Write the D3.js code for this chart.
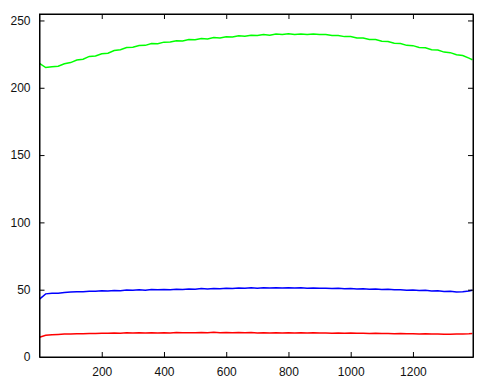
<!DOCTYPE html>
<html>
<head>
<meta charset="utf-8">
<script src="https://cdn.jsdelivr.net/npm/d3@7"></script>
<style>
  body { margin: 0; background: #fff; }
  .axis text { font-family: "Liberation Sans", Arial, sans-serif; font-size: 12px; fill: #111; }
  .axis path, .axis line { stroke: #000; }
</style>
</head>
<body>
<div id="chart-area"></div>
<script>
// sample positions (pixel index along the profile)
var xs = [0, 20, 40, 60, 80, 100, 120, 140, 160, 180, 200, 220, 240, 260, 280, 300, 320, 340, 360, 380,
          400, 420, 440, 460, 480, 500, 520, 540, 560, 580, 600, 620, 640, 660, 680, 700, 720, 740, 760, 780,
          800, 820, 840, 860, 880, 900, 920, 940, 960, 980, 1000, 1020, 1040, 1060, 1080, 1100, 1120, 1140, 1160, 1180,
          1200, 1220, 1240, 1260, 1280, 1300, 1320, 1340, 1360, 1380, 1391];

var green = [218.2, 215.0, 215.6, 216.0, 217.8, 218.7, 220.6, 221.2, 223.3, 223.6, 225.3, 225.7, 227.7, 228.3, 229.9, 230.1, 231.4, 231.5, 232.8, 232.7,
             233.9, 234.0, 234.9, 234.8, 235.8, 235.6, 236.6, 236.3, 237.4, 237.0, 237.9, 237.8, 238.6, 238.2, 239.0, 238.8, 239.5, 239.1, 239.9, 239.5,
             240.1, 239.6, 240.0, 239.6, 240.0, 239.5, 239.6, 238.9, 238.9, 238.0, 238.1, 237.0, 237.0, 235.9, 235.8, 234.6, 234.4, 233.1, 232.9, 231.5,
             231.3, 229.9, 229.7, 228.3, 228.0, 226.5, 226.1, 224.5, 224.0, 222.0, 220.8];

var blue = [43.0, 46.9, 47.3, 47.4, 48.0, 48.2, 48.5, 48.5, 48.9, 48.8, 49.2, 49.0, 49.4, 49.3, 49.7, 49.5, 49.9, 49.6, 50.1, 49.9,
            50.2, 50.0, 50.4, 50.2, 50.6, 50.4, 50.8, 50.6, 50.9, 50.7, 51.1, 50.8, 51.2, 51.0, 51.4, 51.1, 51.4, 51.2, 51.5, 51.2,
            51.4, 51.2, 51.4, 51.1, 51.3, 51.0, 51.1, 50.8, 51.0, 50.7, 50.9, 50.6, 50.7, 50.4, 50.5, 50.2, 50.3, 50.0, 50.0, 49.6,
            49.7, 49.4, 49.5, 49.1, 49.2, 48.7, 48.8, 48.2, 48.4, 49.1, 49.6];

var red = [14.7, 16.2, 16.6, 16.8, 17.1, 17.0, 17.3, 17.2, 17.5, 17.4, 17.7, 17.6, 17.8, 17.7, 18.0, 17.8, 18.0, 17.9, 18.1, 17.9,
           18.1, 17.9, 18.2, 18.0, 18.1, 18.0, 18.2, 18.0, 18.3, 18.0, 18.2, 18.0, 18.2, 18.0, 18.2, 17.9, 18.1, 17.9, 18.1, 17.9,
           18.1, 17.8, 18.0, 17.8, 18.0, 17.8, 17.9, 17.7, 17.9, 17.7, 17.8, 17.6, 17.7, 17.5, 17.6, 17.4, 17.5, 17.3, 17.4, 17.2,
           17.3, 17.1, 17.2, 17.0, 17.1, 16.9, 16.9, 17.0, 17.1, 17.3, 17.5];

var xTicks = [200, 400, 600, 800, 1000, 1200];
var yTicks = [0, 50, 100, 150, 200, 250];

var series = [
    {name: "red", values: red, color: "#ff0000"},
    {name: "blue", values: blue, color: "#0000ff"},
    {name: "green", values: green, color: "#00ff00"}
];

// SVG drawing area
var margin = {top: 14, right: 16, bottom: 34, left: 39.5};
var width = 489 - margin.left - margin.right,
    height = 391 - margin.top - margin.bottom;

var svg = d3.select("#chart-area").append("svg")
    .attr("width", 489)
    .attr("height", 391)
    .append("g")
    .attr("transform", "translate(" + margin.left + "," + margin.top + ")");

var x = d3.scaleLinear().domain([0, 1393]).range([0, width]);
var y = d3.scaleLinear().domain([0, 254.8]).range([height, 0]);

// lines
var line = d3.line()
    .x(function(d, i) { return x(xs[i]); })
    .y(function(d) { return y(d); });

svg.selectAll(".series")
    .data(series)
    .enter().append("path")
    .attr("class", "series")
    .attr("d", function(d) { return line(d.values); })
    .style("fill", "none")
    .style("stroke", function(d) { return d.color; })
    .style("stroke-width", 1.5);

// axes, ticks pointing inward, mirrored on top and right
var tick = 5;
var fmt = d3.format("d");
svg.append("g")
    .attr("class", "axis")
    .attr("transform", "translate(0," + height + ")")
    .call(d3.axisBottom(x).tickValues(xTicks).tickFormat(fmt).tickSizeInner(-tick).tickSizeOuter(0).tickPadding(10));

svg.append("g")
    .attr("class", "axis")
    .call(d3.axisTop(x).tickValues(xTicks).tickSizeInner(-tick).tickSizeOuter(0).tickFormat(""));

svg.append("g")
    .attr("class", "axis")
    .call(d3.axisLeft(y).tickValues(yTicks).tickFormat(fmt).tickSizeInner(-tick).tickSizeOuter(0).tickPadding(9));

svg.append("g")
    .attr("class", "axis")
    .attr("transform", "translate(" + width + ",0)")
    .call(d3.axisRight(y).tickValues(yTicks).tickSizeInner(-tick).tickSizeOuter(0).tickFormat(""));

// frame
svg.append("rect")
    .attr("width", width)
    .attr("height", height)
    .style("fill", "none")
    .style("stroke", "#000")
    .style("stroke-width", 1);
</script>
</body>
</html>
